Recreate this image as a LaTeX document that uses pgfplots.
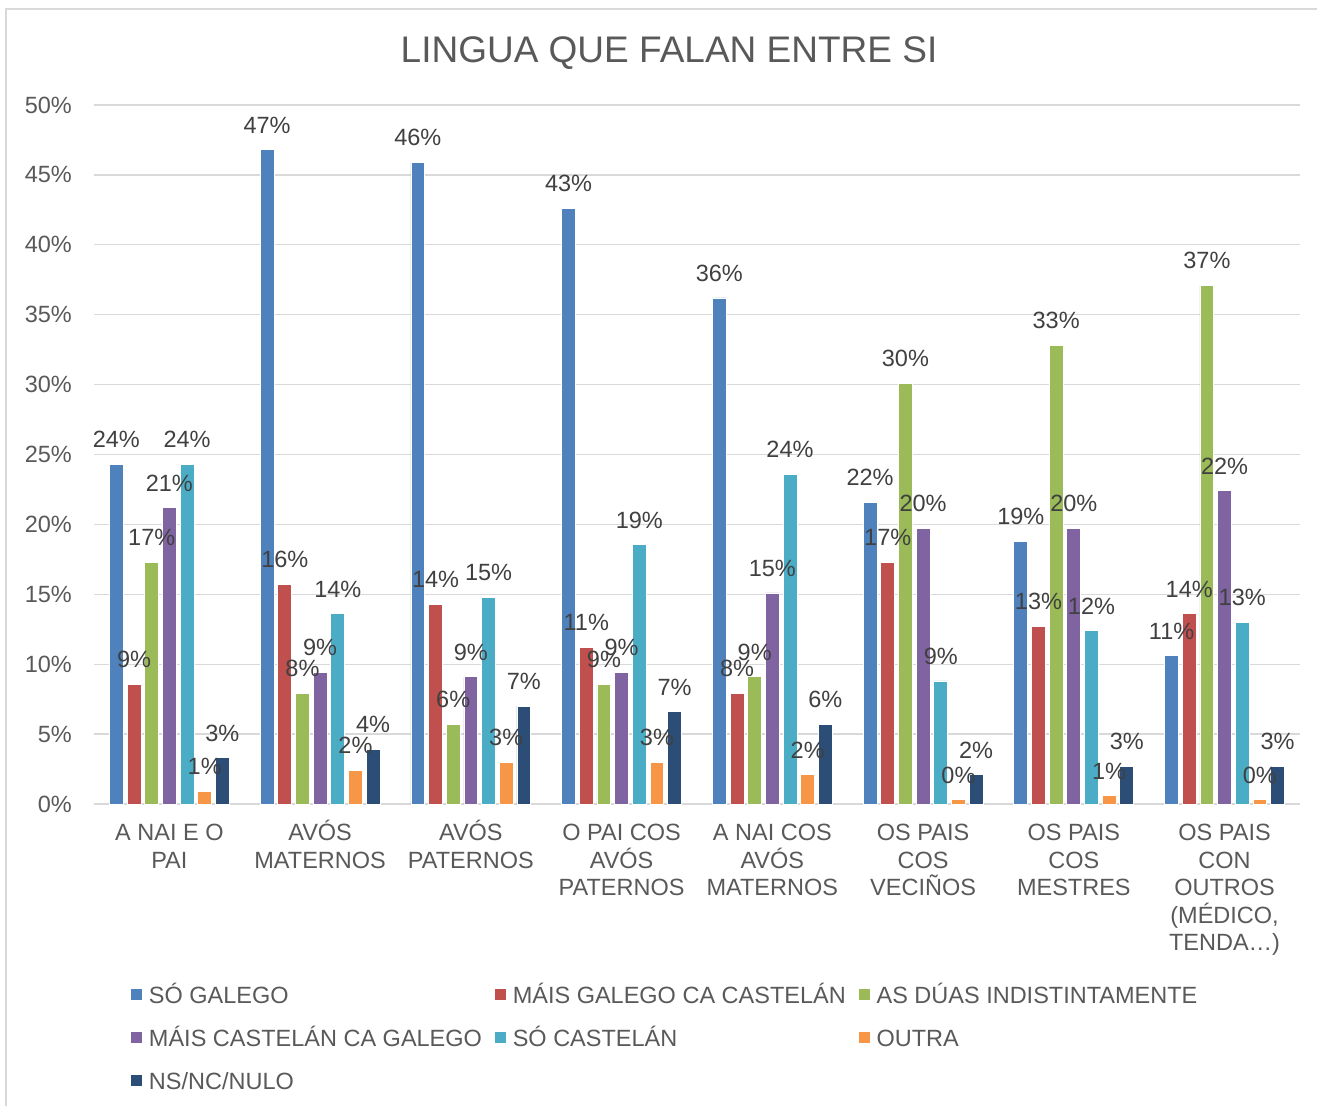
\documentclass[border=0pt]{standalone}
\usepackage{pgfplots}
\usepackage{pgfplotstable}
\pgfplotsset{compat=1.18}
\usepackage{fontspec}
\setmainfont{Liberation Sans}
\definecolor{cBlue}{HTML}{4F81BD}
\definecolor{cRed}{HTML}{C0504D}
\definecolor{cGreen}{HTML}{9BBB59}
\definecolor{cPurple}{HTML}{8064A2}
\definecolor{cCyan}{HTML}{4BACC6}
\definecolor{cOrange}{HTML}{F79646}
\definecolor{cNavy}{HTML}{2C4D75}
\definecolor{gridc}{HTML}{D9D9D9}
\definecolor{txt}{HTML}{595959}
\definecolor{lbl}{HTML}{404040}
\newcommand\R{\rule{0pt}{22bp}}
\newcommand\lf{\fontsize{23.5bp}{27.5bp}\selectfont}
\pgfplotsset{
  mybar/.style={fill=#1, draw=white, line width=0.8bp, bar width=0.092,
    legend image code/.code={\fill[fill=#1] (0bp,-3.6bp) rectangle (12bp,8.4bp);}},
}
\pgfplotstableread{
x blue red green purple cyan orange navy
0 24.3 8.55 17.3 21.2 24.3 0.9 3.3
1 46.8 15.7 7.9 9.4 13.6 2.4 3.9
2 45.9 14.3 5.7 9.1 14.8 3.0 7.0
3 42.6 11.2 8.55 9.4 18.55 3.0 6.6
4 36.2 7.9 9.1 15.1 23.6 2.1 5.7
5 21.6 17.3 30.1 19.7 8.8 0.3 2.1
6 18.8 12.7 32.8 19.7 12.4 0.6 2.7
7 10.6 13.6 37.1 22.4 13.0 0.3 2.7
}\data
\begin{document}
\begin{tikzpicture}
\path[use as bounding box] (0,0) rectangle (1317bp,1106bp);
\draw[gridc, line width=1.3bp] (6bp,0) -- (6bp,1097bp) -- (1317bp,1097bp);
\begin{axis}[
  at={(94bp,302bp)}, anchor=south west,
  scale only axis, width=1206bp, height=699bp,
  ybar, clip=false,
  xmin=-0.5, xmax=7.5, ymin=0, ymax=50,
  ytick={0,5,...,50},
  xtick={0,...,7},
  xticklabels={{\R A NAI E O\\PAI},{\R AVÓS\\MATERNOS},{\R AVÓS\\PATERNOS},{\R O PAI COS\\AVÓS\\PATERNOS},{\R A NAI COS\\AVÓS\\MATERNOS},{\R OS PAIS\\COS\\VECIÑOS},{\R OS PAIS\\COS\\MESTRES},{\R OS PAIS\\CON\\OUTROS\\(MÉDICO,\\TENDA…)}},
  xticklabel style={align=center, font=\lf, text=txt, inner sep=0pt, anchor=north, yshift=-14.4bp},
  yticklabel={\pgfmathprintnumber{\tick}\%},
  yticklabel style={font=\lf, text=txt, inner sep=0pt, anchor=east, xshift=-22bp},
  /pgf/number format/assume math mode=true,
  ymajorgrids, grid style={draw=gridc, line width=1.3bp},
  axis line style={draw=none},
  major tick length=0pt,
  nodes near coords={\pgfmathprintnumber[fixed,precision=0]{\pgfplotspointmeta}\%},
  every node near coord/.append style={font=\lf, text=lbl, inner sep=0pt, anchor=south, yshift=16bp},
  title={LINGUA QUE FALAN ENTRE SI},
  title style={at={(0.4768,1.0525)}, anchor=base, font=\fontsize{37bp}{44bp}\selectfont, text=txt, inner sep=0pt},
  legend columns=3,
  legend cell align=left,
  legend style={at={(0.02985,-0.2604)}, anchor=north west, draw=none, fill=none, inner sep=0pt,
    font=\lf, text=txt, row sep=21bp,
    nodes={inner sep=0pt, text height=17bp, text depth=5bp},
    /tikz/every odd column/.append style={column sep=6bp}},
]
\addplot[mybar=cBlue, bar shift=-0.3516] table[x=x, y=blue] {\data};
\addlegendentry{\makebox[345bp][l]{SÓ GALEGO}}
\addplot[mybar=cRed, bar shift=-0.2344] table[x=x, y=red] {\data};
\addlegendentry{\makebox[345bp][l]{MÁIS GALEGO CA CASTELÁN}}
\addplot[mybar=cGreen, bar shift=-0.1172] table[x=x, y=green] {\data};
\addlegendentry{\makebox[345bp][l]{AS DÚAS INDISTINTAMENTE}}
\addplot[mybar=cPurple, bar shift=0] table[x=x, y=purple] {\data};
\addlegendentry{\makebox[345bp][l]{MÁIS CASTELÁN CA GALEGO}}
\addplot[mybar=cCyan, bar shift=0.1172] table[x=x, y=cyan] {\data};
\addlegendentry{\makebox[345bp][l]{SÓ CASTELÁN}}
\addplot[mybar=cOrange, bar shift=0.2344] table[x=x, y=orange] {\data};
\addlegendentry{\makebox[345bp][l]{OUTRA}}
\addplot[mybar=cNavy, bar shift=0.3516] table[x=x, y=navy] {\data};
\addlegendentry{\makebox[345bp][l]{NS/NC/NULO}}
\end{axis}
\end{tikzpicture}
\end{document}
